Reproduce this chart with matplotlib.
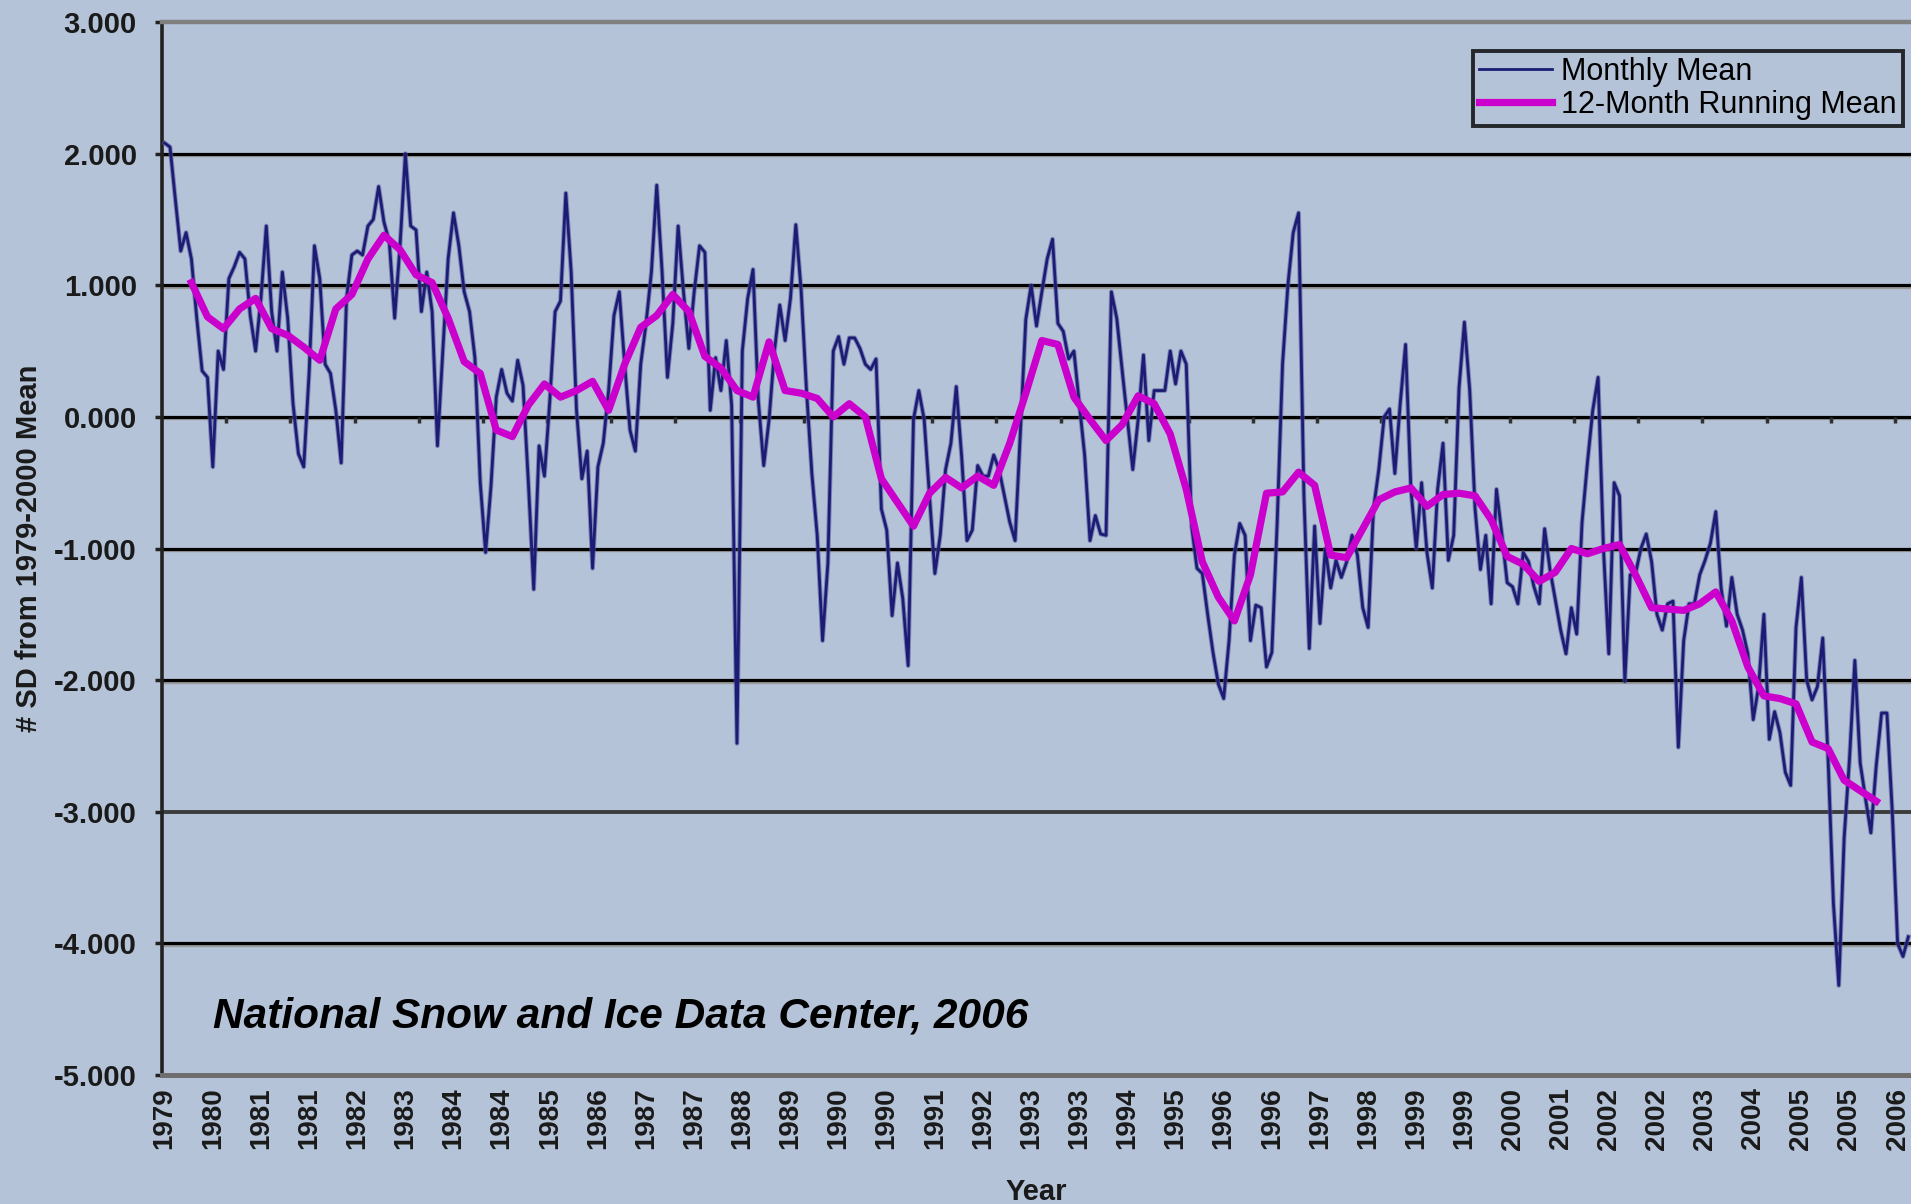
import numpy as np
import matplotlib
matplotlib.use("Agg")
import matplotlib.pyplot as plt

# sea ice extent anomaly, # SD from 1979-2000 mean, one value per month
monthly = [
    2.08, 2.05, 1.65, 1.26, 1.40, 1.20, 0.75, 0.35, 0.30, -0.38,
    0.50, 0.36, 1.05, 1.14, 1.25, 1.20, 0.77, 0.50, 0.90, 1.45,
    0.80, 0.50, 1.10, 0.75, 0.10, -0.28, -0.38, 0.33, 1.30, 1.05,
    0.40, 0.33, 0.05, -0.35, 0.90, 1.23, 1.26, 1.23, 1.45, 1.50,
    1.75, 1.48, 1.33, 0.75, 1.30, 2.00, 1.45, 1.42, 0.80, 1.10,
    0.80, -0.22, 0.50, 1.20, 1.55, 1.30, 0.95, 0.80, 0.45, -0.50,
    -1.03, -0.53, 0.15, 0.36, 0.18, 0.12, 0.43, 0.24, -0.50, -1.31,
    -0.22, -0.45, 0.12, 0.80, 0.88, 1.70, 1.10, 0.05, -0.47, -0.26,
    -1.15, -0.38, -0.20, 0.20, 0.77, 0.95, 0.40, -0.10, -0.26, 0.40,
    0.71, 1.10, 1.76, 1.10, 0.30, 0.71, 1.45, 0.95, 0.52, 0.95,
    1.30, 1.25, 0.05, 0.45, 0.20, 0.58, 0.09, -2.48, 0.50, 0.90,
    1.12, 0.12, -0.37, -0.02, 0.50, 0.85, 0.58, 0.90, 1.46, 0.96,
    0.20, -0.43, -0.90, -1.70, -1.11, 0.50, 0.61, 0.40, 0.60, 0.60,
    0.52, 0.40, 0.36, 0.44, -0.70, -0.86, -1.51, -1.11, -1.38, -1.89,
    -0.02, 0.20, -0.02, -0.60, -1.19, -0.90, -0.40, -0.20, 0.23, -0.30,
    -0.94, -0.86, -0.37, -0.45, -0.45, -0.29, -0.40, -0.60, -0.80, -0.94,
    -0.10, 0.74, 1.00, 0.69, 0.95, 1.20, 1.35, 0.71, 0.65, 0.44,
    0.50, 0.10, -0.29, -0.94, -0.75, -0.89, -0.90, 0.95, 0.75, 0.36,
    -0.02, -0.40, -0.02, 0.47, -0.18, 0.20, 0.20, 0.20, 0.50, 0.25,
    0.50, 0.40, -0.83, -1.15, -1.19, -1.50, -1.79, -2.03, -2.14, -1.70,
    -1.05, -0.81, -0.90, -1.70, -1.43, -1.45, -1.90, -1.79, -0.80, 0.40,
    1.00, 1.40, 1.55, -0.60, -1.76, -0.83, -1.57, -1.00, -1.30, -1.09,
    -1.22, -1.10, -0.90, -1.05, -1.45, -1.60, -0.70, -0.40, 0.00, 0.06,
    -0.43, 0.10, 0.55, -0.55, -1.00, -0.50, -1.03, -1.30, -0.55, -0.20,
    -1.09, -0.90, 0.22, 0.72, 0.20, -0.70, -1.16, -0.90, -1.42, -0.55,
    -0.89, -1.26, -1.29, -1.42, -1.03, -1.10, -1.29, -1.42, -0.85, -1.16,
    -1.39, -1.62, -1.80, -1.45, -1.65, -0.80, -0.35, 0.05, 0.30, -1.00,
    -1.80, -0.50, -0.60, -2.01, -1.20, -1.19, -1.00, -0.89, -1.10, -1.50,
    -1.62, -1.42, -1.40, -2.51, -1.70, -1.42, -1.42, -1.20, -1.09, -0.96,
    -0.72, -1.30, -1.59, -1.22, -1.50, -1.62, -1.80, -2.30, -2.05, -1.50,
    -2.45, -2.24, -2.40, -2.70, -2.80, -1.60, -1.22, -2.00, -2.15, -2.05,
    -1.68, -2.60, -3.70, -4.32, -3.20, -2.60, -1.85, -2.63, -2.90, -3.16,
    -2.65, -2.25, -2.25, -3.00, -4.00, -4.10, -3.95,
]

# 12-month running mean, read every third month starting at month 5
running = [
    1.02, 0.76, 0.67, 0.82, 0.90, 0.67, 0.62, 0.53, 0.43, 0.82,
    0.93, 1.20, 1.38, 1.27, 1.08, 1.02, 0.75, 0.42, 0.33, -0.10,
    -0.15, 0.09, 0.25, 0.15, 0.20, 0.27, 0.05, 0.40, 0.68, 0.77,
    0.93, 0.80, 0.46, 0.37, 0.20, 0.15, 0.57, 0.20, 0.18, 0.14,
    0.00, 0.10, 0.00, -0.47, -0.65, -0.83, -0.58, -0.46, -0.54, -0.45,
    -0.52, -0.20, 0.18, 0.58, 0.55, 0.15, -0.02, -0.18, -0.06, 0.16,
    0.10, -0.13, -0.55, -1.10, -1.37, -1.55, -1.20, -0.58, -0.57, -0.42,
    -0.52, -1.05, -1.07, -0.85, -0.63, -0.57, -0.54, -0.68, -0.59, -0.58,
    -0.60, -0.78, -1.06, -1.12, -1.25, -1.18, -1.00, -1.04, -1.00, -0.97,
    -1.20, -1.45, -1.46, -1.47, -1.42, -1.33, -1.55, -1.90, -2.12, -2.14,
    -2.18, -2.47, -2.52, -2.76, -2.84, -2.92,
]

xtick_labels = ['1979', '1980', '1981', '1981', '1982', '1983', '1984', '1984',
                '1985', '1986', '1987', '1987', '1988', '1989', '1990', '1990',
                '1991', '1992', '1993', '1993', '1994', '1995', '1996', '1996',
                '1997', '1998', '1999', '1999', '2000', '2001', '2002', '2002',
                '2003', '2004', '2005', '2005', '2006']
yticks = [3, 2, 1, 0, -1, -2, -3, -4, -5]
ytick_labels = ['3.000', '2.000', '1.000', '0.000', '-1.000', '-2.000',
                '-3.000', '-4.000', '-5.000']

bg = '#b4c3d7'
plt.rcParams['font.family'] = ['Liberation Sans', 'DejaVu Sans']

fig = plt.figure(figsize=(19.11, 12.04), dpi=100, facecolor=bg)
ax = fig.add_axes([162 / 1911, 129 / 1204, 1 - 162 / 1911, (1075 - 22) / 1204])
ax.set_facecolor(bg)

n = len(monthly)
x_month = np.arange(n)
x_run = 5 + 3 * np.arange(len(running))

# horizontal gridlines, black with a grey shadow
for yv in [2, 1, 0, -1, -2, -4]:
    ax.axhline(yv - 0.012, color='#9a9a9a', lw=2.4, zorder=1)
    ax.axhline(yv, color='black', lw=2.3, zorder=1.5)
ax.axhline(-3, color='#3c3c3c', lw=2.8, zorder=1.5)

# small category ticks on the zero line
ax.vlines(np.arange(11.5, n, 12), -0.05, 0, color='#303030', lw=2.5, zorder=1.6)

ax.plot(x_month, monthly, color='#5a5aa2', lw=3.4, zorder=3, alpha=0.6)
ax.plot(x_month, monthly, color='#1c1c74', lw=2.0, zorder=3.1, label='Monthly Mean')
ax.plot(x_run, running, color='#cc00cc', lw=5.2, zorder=4,
        solid_joinstyle='round', label='12-Month Running Mean')

ax.set_xlim(-0.5, n - 0.5)
ax.set_ylim(-5, 3)

ax.spines['right'].set_visible(False)
ax.spines['top'].set_color('#808080')
ax.spines['top'].set_linewidth(3.2)
ax.spines['bottom'].set_color('#6e6e6e')
ax.spines['bottom'].set_linewidth(3.6)
ax.spines['left'].set_color('#222222')
ax.spines['left'].set_linewidth(2.6)

ax.set_yticks(yticks, labels=ytick_labels)
ax.set_xticks(np.arange(len(xtick_labels)) * 9, labels=xtick_labels, rotation=90)
ax.tick_params(axis='y', direction='out', length=5, width=2.5, color='#222222',
               pad=13, labelsize=21)
ax.tick_params(axis='x', length=0, pad=9, labelsize=20)
for lab in ax.get_xticklabels() + ax.get_yticklabels():
    lab.set_fontweight('bold')
    lab.set_color('#1a1a1a')

ax.set_xlabel('Year', fontsize=21, fontweight='bold', color='#1a1a1a')
ax.xaxis.set_label_coords(0.5, -0.098)
ax.set_ylabel('# SD from 1979-2000 Mean', fontsize=21, fontweight='bold', color='#1a1a1a')
ax.yaxis.set_label_coords(-0.068, 0.5)

ax.text(0.029, 0.045, 'National Snow and Ice Data Center, 2006', transform=ax.transAxes,
        fontsize=30.5, fontweight='bold', fontstyle='italic', va='baseline', color='black')

leg = ax.legend(loc='upper right', bbox_to_anchor=(0.9955, 0.9725), borderaxespad=0,
                fontsize=22, frameon=True, fancybox=False, handlelength=2.4,
                handletextpad=0.3, labelspacing=0.08, borderpad=0.2)
leg.get_frame().set_facecolor(bg)
leg.get_frame().set_edgecolor('black')
leg.get_frame().set_linewidth(2.8)

fig.savefig('out.png', dpi=100, facecolor=bg)
